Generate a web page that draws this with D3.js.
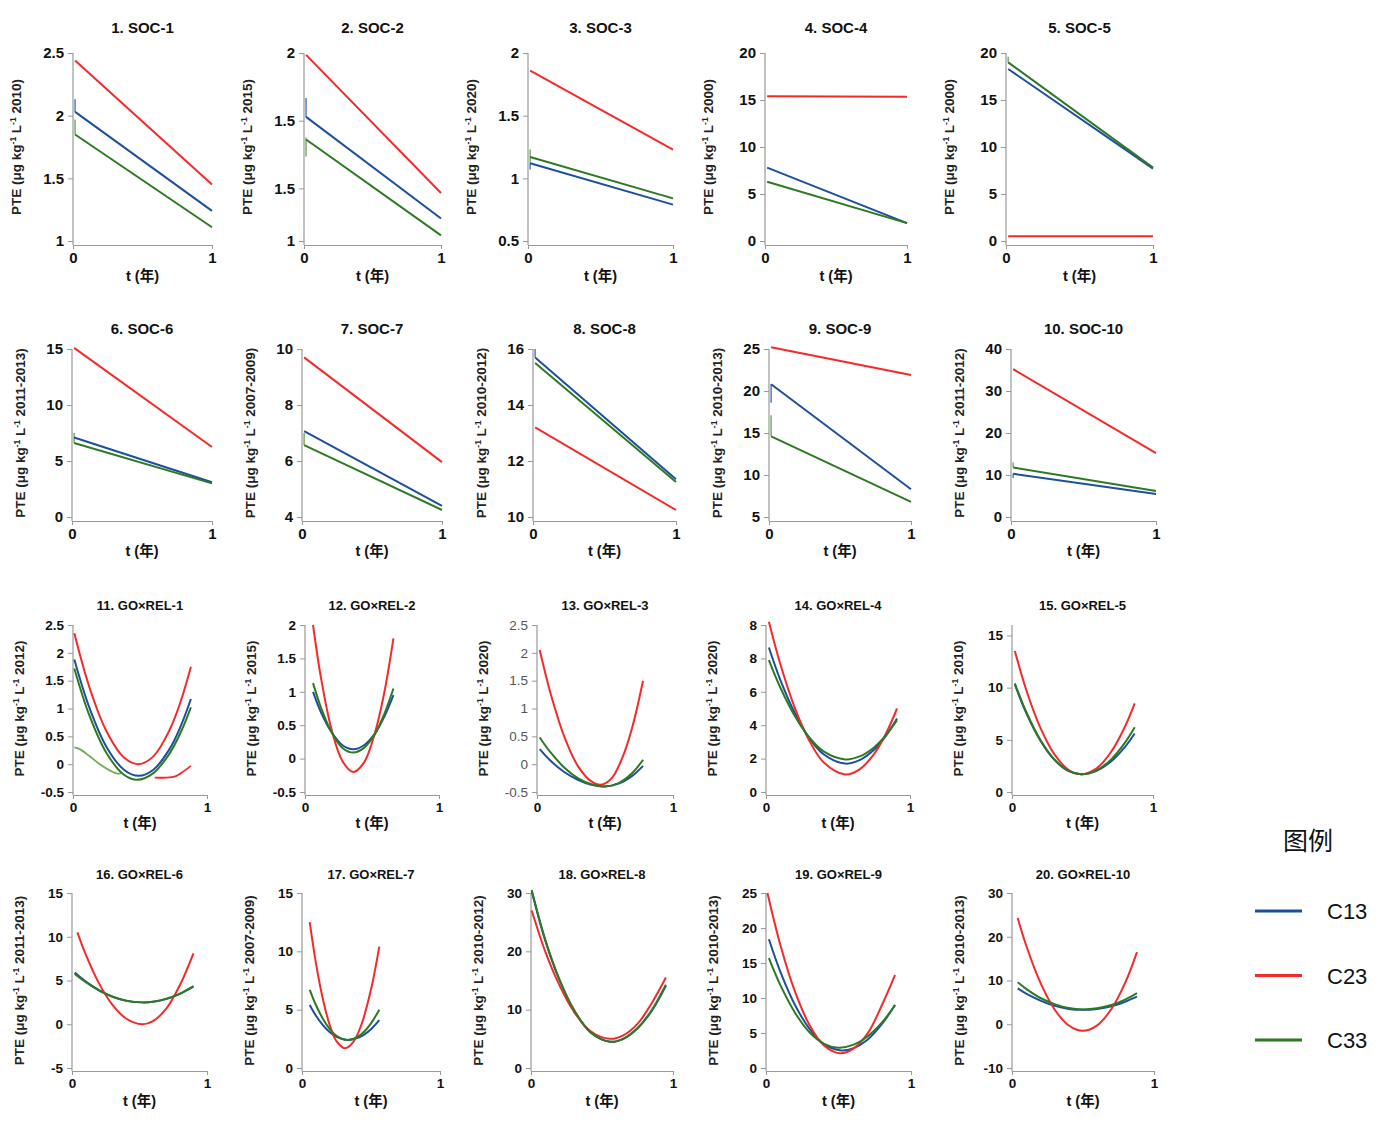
<!DOCTYPE html>
<html>
<head>
<meta charset="utf-8">
<script src="https://cdn.jsdelivr.net/npm/d3@7"></script>
<style>
body { margin: 0; background: #fff; }
text { font-family: "Liberation Sans", Arial, "Noto Sans CJK SC", sans-serif; }
</style>
</head>
<body>
<svg width="1399" height="1124"></svg>
<script>
// ---- data ----
var titles = ["1. SOC-1","2. SOC-2","3. SOC-3","4. SOC-4","5. SOC-5",
              "6. SOC-6","7. SOC-7","8. SOC-8","9. SOC-9","10. SOC-10",
              "11. GO×REL-1","12. GO×REL-2","13. GO×REL-3","14. GO×REL-4","15. GO×REL-5",
              "16. GO×REL-6","17. GO×REL-7","18. GO×REL-8","19. GO×REL-9","20. GO×REL-10"];
var periods = ["2010","2015","2020","2000","2000","2011-2013","2007-2009","2010-2012","2010-2013","2011-2012",
               "2012","2015","2020","2020","2010","2011-2013","2007-2009","2010-2012","2010-2013","2010-2013"];
var yDomains = [[1,2.5],[1,2],[0.5,2],[0,20],[0,20],[0,15],[4,10],[10,16],[5,25],[0,40],
                [-0.5,2.5],[-0.5,2],[-0.5,2.5],[0,10],[0,16],[-5,15],[0,15],[0,30],[0,25],[-10,30]];
var yTicks = [[1,1.5,2,2.5],[1,1.28,1.64,2],[0.5,1,1.5,2],[0,5,10,15,20],[0,5,10,15,20],
              [0,5,10,15],[4,6,8,10],[10,12,14,16],[5,10,15,20,25],[0,10,20,30,40],
              [-0.5,0,0.5,1,1.5,2,2.5],[-0.5,0,0.5,1,1.5,2],[-0.5,0,0.5,1,1.5,2,2.5],[0,2,4,6,8,10],[0,5,10,15],
              [-5,0,5,10,15],[0,5,10,15],[0,10,20,30],[0,5,10,15,20,25],[-10,0,10,20,30]];
// tick texts as printed where they differ from the values
var yTickText = {1: ["1","1.5","1.5","2"], 13: ["0","2","4","6","8","8"]};
var xTicks = [0, 1];
var seriesNames = ["C13", "C23", "C33"];

var c13 = [
  [[0.015,2.03],[1,1.24]],
  [[0.015,1.66],[1,1.12]],
  [[0.015,1.12],[1,0.79]],
  [[0.015,7.8],[1,1.9]],
  [[0.015,18.3],[1,7.7]],
  [[0.015,7.1],[1,3.1]],
  [[0.015,7.07],[1,4.4]],
  [[0.015,15.7],[1,11.35]],
  [[0.015,20.8],[1,8.3]],
  [[0.015,10.3],[1,5.5]],
  [[0.01,1.88],[0.12,1.03],[0.25,0.31],[0.38,-0.1],[0.49,-0.21],[0.6,-0.1],[0.72,0.27],[0.8,0.66],[0.88,1.17]],
  [[0.06,1.0],[0.12,0.69],[0.2,0.39],[0.28,0.2],[0.36,0.14],[0.44,0.2],[0.52,0.37],[0.59,0.62],[0.66,0.95]],
  [[0.02,0.27],[0.1,0.06],[0.2,-0.14],[0.3,-0.28],[0.4,-0.37],[0.5,-0.4],[0.6,-0.35],[0.7,-0.21],[0.78,-0.03]],
  [[0.02,8.65],[0.1,6.7],[0.2,4.73],[0.3,3.24],[0.4,2.26],[0.55,1.7],[0.65,1.91],[0.75,2.53],[0.83,3.33],[0.91,4.4]],
  [[0.02,10.3],[0.1,7.62],[0.2,4.97],[0.3,3.1],[0.4,2.02],[0.49,1.7],[0.6,2.03],[0.7,2.89],[0.8,4.29],[0.87,5.6]],
  [[0.02,5.9],[0.1,4.9],[0.2,3.9],[0.3,3.16],[0.4,2.7],[0.52,2.5],[0.6,2.57],[0.7,2.9],[0.8,3.48],[0.9,4.3]],
  [[0.056,5.4],[0.1,4.5],[0.15,3.7],[0.2,3.08],[0.25,2.66],[0.33,2.4],[0.4,2.56],[0.45,2.86],[0.5,3.32],[0.56,4.1]],
  [[0.005,30.3],[0.1,21.9],[0.2,15.1],[0.3,10.0],[0.42,6.1],[0.56,4.5],[0.65,5.0],[0.75,6.8],[0.85,9.8],[0.95,14.1]],
  [[0.02,18.4],[0.1,13.7],[0.2,9.0],[0.3,5.6],[0.4,3.4],[0.52,2.5],[0.6,2.8],[0.7,4.04],[0.8,6.3],[0.89,9.0]],
  [[0.04,8.2],[0.1,7.0],[0.2,5.4],[0.3,4.2],[0.4,3.5],[0.5,3.3],[0.6,3.5],[0.7,4.1],[0.8,5.2],[0.88,6.3]]
];
var c23 = [
  [[0.015,2.44],[1,1.45]],
  [[0.015,1.99],[1,1.255]],
  [[0.015,1.86],[1,1.23]],
  [[0.015,15.4],[1,15.35]],
  [[0.015,0.5],[1,0.5]],
  [[0.015,15.1],[1,6.25]],
  [[0.015,9.7],[1,5.96]],
  [[0.015,13.2],[1,10.25]],
  [[0.015,25.2],[1,21.9]],
  [[0.015,35.2],[1,15.2]],
  [[0.01,2.35],[0.12,1.4],[0.25,0.59],[0.38,0.12],[0.49,0.0],[0.6,0.14],[0.72,0.61],[0.8,1.1],[0.88,1.75]],
  [[0.06,2.0],[0.12,1.2],[0.2,0.42],[0.28,-0.04],[0.36,-0.2],[0.44,-0.06],[0.52,0.37],[0.59,0.97],[0.66,1.8]],
  [[0.02,2.05],[0.1,1.27],[0.2,0.5],[0.3,-0.03],[0.4,-0.31],[0.47,-0.37],[0.55,-0.25],[0.63,0.13],[0.7,0.66],[0.78,1.5]],
  [[0.02,10.2],[0.1,7.65],[0.2,5.04],[0.3,3.09],[0.4,1.78],[0.55,1.05],[0.65,1.36],[0.75,2.27],[0.83,3.44],[0.91,5.0]],
  [[0.02,13.5],[0.1,9.82],[0.2,6.19],[0.3,3.63],[0.4,2.13],[0.49,1.7],[0.6,2.27],[0.7,3.78],[0.8,6.23],[0.87,8.5]],
  [[0.04,10.5],[0.1,8.04],[0.2,4.67],[0.3,2.21],[0.4,0.66],[0.52,0.0],[0.6,0.36],[0.7,1.82],[0.8,4.49],[0.9,8.1]],
  [[0.056,12.5],[0.1,9.06],[0.15,5.98],[0.2,3.72],[0.25,2.3],[0.31,1.7],[0.37,2.2],[0.43,3.7],[0.5,6.72],[0.56,10.4]],
  [[0.005,27.0],[0.1,20.0],[0.2,14.2],[0.3,9.73],[0.42,6.3],[0.555,5.0],[0.65,5.6],[0.75,7.56],[0.85,11.1],[0.95,15.5]],
  [[0.01,25.0],[0.1,17.5],[0.2,10.9],[0.3,6.14],[0.4,3.21],[0.51,2.1],[0.6,2.73],[0.7,4.9],[0.8,9.0],[0.89,13.3]],
  [[0.04,24.3],[0.1,18.0],[0.2,9.5],[0.3,3.38],[0.4,-0.28],[0.5,-1.5],[0.6,-0.25],[0.7,3.5],[0.8,9.7],[0.88,16.5]]
];
var c33 = [
  [[0.015,1.85],[1,1.11]],
  [[0.015,1.54],[1,1.03]],
  [[0.015,1.17],[1,0.84]],
  [[0.015,6.3],[1,1.9]],
  [[0.015,19.0],[1,7.8]],
  [[0.015,6.6],[1,3.0]],
  [[0.015,6.57],[1,4.25]],
  [[0.015,15.5],[1,11.25]],
  [[0.015,14.6],[1,6.8]],
  [[0.015,11.8],[1,6.2]],
  [[0.01,1.72],[0.12,0.89],[0.25,0.2],[0.38,-0.19],[0.48,-0.28],[0.6,-0.16],[0.72,0.19],[0.8,0.55],[0.88,1.02]],
  [[0.06,1.13],[0.12,0.76],[0.2,0.39],[0.28,0.16],[0.36,0.09],[0.44,0.16],[0.52,0.36],[0.59,0.66],[0.66,1.05]],
  [[0.02,0.48],[0.1,0.21],[0.2,-0.06],[0.3,-0.25],[0.4,-0.36],[0.5,-0.4],[0.6,-0.34],[0.7,-0.16],[0.78,0.08]],
  [[0.02,7.9],[0.1,6.24],[0.2,4.55],[0.3,3.27],[0.4,2.43],[0.55,1.95],[0.65,2.13],[0.75,2.67],[0.83,3.37],[0.91,4.3]],
  [[0.02,10.4],[0.1,7.69],[0.2,5.01],[0.3,3.12],[0.4,2.02],[0.49,1.7],[0.6,2.08],[0.7,3.08],[0.8,4.7],[0.87,6.2]],
  [[0.02,5.75],[0.1,4.83],[0.2,3.85],[0.3,3.14],[0.4,2.69],[0.52,2.5],[0.6,2.58],[0.7,2.91],[0.8,3.5],[0.9,4.35]],
  [[0.056,6.7],[0.1,5.42],[0.15,4.25],[0.2,3.36],[0.25,2.76],[0.33,2.4],[0.4,2.64],[0.45,3.1],[0.5,3.82],[0.56,5.0]],
  [[0.005,30.5],[0.1,22.0],[0.2,15.2],[0.3,10.1],[0.42,6.1],[0.56,4.5],[0.65,5.0],[0.75,6.8],[0.85,9.9],[0.95,14.3]],
  [[0.02,15.7],[0.1,11.8],[0.2,7.9],[0.3,5.1],[0.4,3.46],[0.5,2.9],[0.6,3.3],[0.7,4.5],[0.8,6.5],[0.89,9.0]],
  [[0.04,9.6],[0.1,8.1],[0.2,6.0],[0.3,4.6],[0.4,3.7],[0.5,3.4],[0.6,3.66],[0.7,4.4],[0.8,5.7],[0.88,7.1]]
];
// small vertical spikes at the start of the SOC lines: [panel, series, from, to]
var spikes = [[0,"C13",2.03,2.13],[0,"C33",1.85,1.97],[1,"C13",1.66,1.76],[1,"C33",1.45,1.55],
              [2,"C33",1.12,1.23],[2,"C13",1.07,1.12],[4,"C33",19.0,19.6],[5,"C33",6.6,7.5],
              [6,"C33",6.57,7.0],[7,"C13",15.7,16.0],[8,"C13",18.6,20.8],[8,"C33",14.6,17.1],
              [9,"C33",11.8,13.0],[9,"C13",9.3,10.3]];
// stray fragments in panel 11
var strayC33 = [[0.01,0.3],[0.05,0.27],[0.12,0.15],[0.2,0.0],[0.28,-0.12],[0.33,-0.17],[0.36,-0.16]];
var strayC23 = [[0.61,-0.24],[0.75,-0.23],[0.8,-0.17],[0.88,-0.03]];

// ---- layout ----
var svg = d3.select("svg");
var colors = {C13: "#1c4f9c", C23: "#f42a2a", C33: "#2d7a22"};
var spikeColors = {C13: "#5a86c8", C33: "#7fb56a"};
var rows = [
  {title: 33, yr: [241, 53], xAxis: 245, xLabel: 281, tSize: 15, fSize: 15, off: 52},
  {title: 334, yr: [517, 349], xAxis: 521, xLabel: 556, tSize: 15, fSize: 15, off: 47},
  {title: 610, yr: [792, 625], xAxis: 795, xLabel: 828, tSize: 13, fSize: 13.5, off: 49},
  {title: 879, yr: [1068, 893], xAxis: 1071, xLabel: 1106, tSize: 13, fSize: 13.5, off: 48}
];
var cols = [
  [[73,212],[304,441],[528,673],[765,907],[1006,1153]],
  [[72,212],[302,442],[533,676],[769,911],[1011,1156]],
  [[73,207],[305,439],[537,673],[766,910],[1012,1153]],
  [[72,207],[302,440],[531,673],[766,911],[1012,1154]]
];
var allSeries = {C13: c13, C23: c23, C33: c33};

titles.forEach(function(title, i) {
  var r = Math.floor(i / 5), c = i % 5, row = rows[r];
  var x = d3.scaleLinear().domain([0, 1]).range(cols[r][c]);
  var y = d3.scaleLinear().domain(yDomains[i]).range(row.yr);
  var g = svg.append("g");

  // title
  g.append("text")
    .attr("x", (x.range()[0] + x.range()[1]) / 2)
    .attr("y", row.title)
    .attr("text-anchor", "middle")
    .style("font-size", row.tSize + "px")
    .style("font-weight", "bold")
    .attr("fill", "#111")
    .text(title);

  // y axis
  var yAxis = d3.axisLeft(y).tickValues(yTicks[i]).tickSize(5).tickPadding(4)
    .tickFormat(function(d, k) { return yTickText[i] ? yTickText[i][k] : String(d); });
  var ya = g.append("g").attr("transform", "translate(" + x(0) + ",0)").call(yAxis);
  ya.select(".domain").remove();
  ya.selectAll(".tick line").attr("stroke", "#999");
  ya.selectAll(".tick text")
    .style("font-size", row.fSize + "px")
    .style("font-weight", i === 12 ? "normal" : "bold")
    .attr("fill", i === 12 ? "#555" : "#111")
    .style("font-family", "'Liberation Sans', Arial, sans-serif");
  g.append("line")
    .attr("x1", x(0)).attr("x2", x(0))
    .attr("y1", y(yDomains[i][1])).attr("y2", row.xAxis)
    .attr("stroke", "#999").attr("stroke-width", 1.2);

  // x axis
  var xAxis = d3.axisBottom(x).tickValues(xTicks).tickSize(4).tickSizeOuter(0).tickPadding(3)
    .tickFormat(d3.format("d"));
  var xa = g.append("g").attr("transform", "translate(0," + row.xAxis + ")").call(xAxis);
  xa.select(".domain").attr("stroke", "#999").attr("stroke-width", 1.2);
  xa.selectAll(".tick line").attr("stroke", "#999");
  xa.selectAll(".tick text")
    .style("font-size", row.fSize + "px")
    .style("font-weight", "bold")
    .attr("fill", "#111")
    .style("font-family", "'Liberation Sans', Arial, sans-serif");

  // x label
  g.append("text")
    .attr("x", (x.range()[0] + x.range()[1]) / 2)
    .attr("y", row.xLabel)
    .attr("text-anchor", "middle")
    .style("font-size", "14.5px")
    .style("font-weight", "bold")
    .attr("fill", "#111")
    .text("t (年)");

  // y label
  var midY = (row.yr[0] + row.yr[1]) / 2;
  var yl = g.append("text")
    .attr("transform", "translate(" + (x(0) - row.off) + "," + midY + ") rotate(-90)")
    .attr("text-anchor", "middle")
    .style("font-size", "13.5px")
    .style("font-weight", "bold")
    .attr("fill", "#222");
  yl.append("tspan").text("PTE (μg kg");
  yl.append("tspan").attr("dy", -5).style("font-size", "8.5px").text("-1");
  yl.append("tspan").attr("dy", 5).text(" L");
  yl.append("tspan").attr("dy", -5).style("font-size", "8.5px").text("-1");
  yl.append("tspan").attr("dy", 5).text(" " + periods[i] + ")");

  // lines
  var line = d3.line()
    .x(function(d) { return x(d[0]); })
    .y(function(d) { return y(d[1]); })
    .curve(i < 10 ? d3.curveLinear : d3.curveCatmullRom.alpha(0.5));

  if (i === 10) {
    g.append("path").attr("d", line(strayC33)).attr("fill", "none")
      .attr("stroke", "#6fae55").attr("stroke-width", 1.8);
    g.append("path").attr("d", line(strayC23)).attr("fill", "none")
      .attr("stroke", colors.C23).attr("stroke-width", 1.8);
  }

  spikes.filter(function(s) { return s[0] === i; }).forEach(function(s) {
    g.append("line")
      .attr("x1", x(0.015)).attr("x2", x(0.015))
      .attr("y1", y(s[2])).attr("y2", y(s[3]))
      .attr("stroke", spikeColors[s[1]]).attr("stroke-width", 1.6);
  });

  seriesNames.forEach(function(name) {
    g.append("path")
      .datum(allSeries[name][i])
      .attr("d", line)
      .attr("fill", "none")
      .attr("stroke", colors[name])
      .attr("stroke-width", 2);
  });
});

// legend
var legend = svg.append("g");
legend.append("text")
  .attr("x", 1308).attr("y", 850)
  .attr("text-anchor", "middle")
  .style("font-family", "'Noto Sans CJK SC', sans-serif")
  .style("font-size", "25px")
  .attr("fill", "#111")
  .text("图例");
var legendY = d3.scalePoint().domain(seriesNames).range([911, 1040]);
seriesNames.forEach(function(name) {
  legend.append("line")
    .attr("x1", 1255).attr("x2", 1302)
    .attr("y1", legendY(name)).attr("y2", legendY(name))
    .attr("stroke", colors[name]).attr("stroke-width", 3);
  legend.append("text")
    .attr("x", 1327).attr("y", legendY(name) + 8)
    .style("font-size", "22px")
    .attr("fill", "#111")
    .text(name);
});
</script>
</body>
</html>
